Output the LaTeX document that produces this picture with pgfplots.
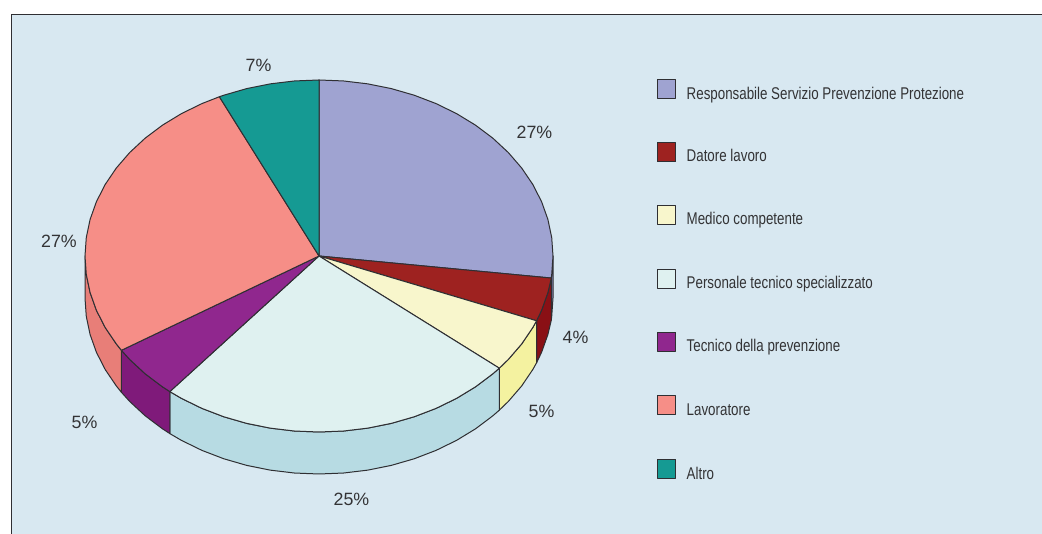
\documentclass[border=0pt]{standalone}
\usepackage{pgfplots}
\usepackage{fontspec}
\pgfplotsset{compat=1.18}
\setmainfont{Liberation Sans}
\newfontfamily\cond{Liberation Sans}[FakeStretch=0.785]
\definecolor{panel}{HTML}{D8E8F1}
\definecolor{edge}{HTML}{2F2F33}
\definecolor{txt}{HTML}{333335}
\definecolor{ta}{HTML}{9FA3D1}\definecolor{tb}{HTML}{9E2220}\definecolor{tc}{HTML}{F8F6CC}
\definecolor{td}{HTML}{DFF1F0}\definecolor{te}{HTML}{90278E}\definecolor{tf}{HTML}{F68E87}\definecolor{tg}{HTML}{159A93}
\definecolor{sa}{HTML}{7D80AC}\definecolor{sb}{HTML}{8A1015}\definecolor{sc}{HTML}{F4F2A0}
\definecolor{sd}{HTML}{B7DBE3}\definecolor{se}{HTML}{7F1A7A}\definecolor{sf}{HTML}{E87E78}
\newcommand{\pct}[3]{\node[text=txt,font=\fontsize{17.8}{20}\selectfont,anchor=center] at (axis cs:#1,#2) {#3\%};}
\newcommand{\leg}[2]{\node[text=txt,font=\cond\fontsize{17}{20}\selectfont,anchor=base west,inner sep=0pt] at (axis cs:686.5,#1) {#2};}
\begin{document}
\begin{tikzpicture}
\begin{axis}[
  scale only axis, width=1042pt, height=534pt,
  xmin=0, xmax=1042, ymin=0, ymax=534,
  hide axis, clip=true,
  every axis plot/.append style={line join=round, line width=1pt}
]
% panel
\addplot[fill=white,draw=none] coordinates {(0,0)(1042,0)(1042,534)(0,534)} --cycle;
\addplot[fill=panel,draw=none] coordinates {(11,0)(1042,0)(1042,520)(11,520)} --cycle;
\addplot[draw=edge,line width=1.8pt] coordinates {(11.5,0)(11.5,519.5)(1042,519.5)};
% side walls
\addplot[fill=sa,draw=edge] coordinates {(553,278)(551.72,259.6)(551.32,255.94)(551.32,213.94)(551.72,217.6)(553,236)} --cycle;
\addplot[fill=sb,draw=edge] coordinates {(551.32,255.94)(547.89,241.41)(541.55,223.61)(536.57,213.21)(536.57,171.21)(541.55,181.61)(547.89,199.41)(551.32,213.94)} --cycle;
\addplot[fill=sc,draw=edge] coordinates {(536.57,213.21)(532.77,206.41)(521.65,190)(508.31,174.55)(499.30,165.81)(499.30,123.81)(508.31,132.55)(521.65,148)(532.77,164.41)(536.57,171.21)} --cycle;
\addplot[fill=sd,draw=edge] coordinates {(499.30,165.81)(492.89,160.23)(475.58,147.21)(456.54,135.61)(436,125.58)(414.18,117.22)(391.31,110.61)(367.65,105.85)(343.46,102.96)(319,102)(294.54,102.96)(270.35,105.85)(246.69,110.61)(223.82,117.22)(202,125.58)(181.46,135.61)(169.84,142.39)(169.84,100.39)(181.46,93.61)(202,83.58)(223.82,75.22)(246.69,68.61)(270.35,63.85)(294.54,60.96)(319,60)(343.46,60.96)(367.65,63.85)(391.31,68.61)(414.18,75.22)(436,83.58)(456.54,93.61)(475.58,105.21)(492.89,118.23)(499.30,123.81)} --cycle;
\addplot[fill=se,draw=edge] coordinates {(169.84,142.39)(162.42,147.21)(145.11,160.23)(129.69,174.55)(121.43,183.69)(121.43,141.69)(129.69,132.55)(145.11,118.23)(162.42,105.21)(169.84,100.39)} --cycle;
\addplot[fill=sf,draw=edge] coordinates {(121.43,183.69)(116.35,190)(105.23,206.41)(96.45,223.61)(90.11,241.41)(86.28,259.6)(85,278)(85,236)(86.28,217.6)(90.11,199.41)(96.45,181.61)(105.23,164.41)(116.35,148)(121.43,141.69)} --cycle;
% top faces
\addplot[fill=ta,draw=edge] coordinates {(319,278)(319,454)(343.46,453.04)(367.65,450.15)(391.31,445.39)(414.18,438.78)(436,430.42)(456.54,420.39)(475.58,408.79)(492.89,395.77)(508.31,381.45)(521.65,366)(532.77,349.59)(541.55,332.39)(547.89,314.59)(551.72,296.4)(553,278)(551.72,259.6)(551.32,255.94)} --cycle;
\addplot[fill=tb,draw=edge] coordinates {(319,278)(551.32,255.94)(547.89,241.41)(541.55,223.61)(536.57,213.21)} --cycle;
\addplot[fill=tc,draw=edge] coordinates {(319,278)(536.57,213.21)(532.77,206.41)(521.65,190)(508.31,174.55)(499.30,165.81)} --cycle;
\addplot[fill=td,draw=edge] coordinates {(319,278)(499.30,165.81)(492.89,160.23)(475.58,147.21)(456.54,135.61)(436,125.58)(414.18,117.22)(391.31,110.61)(367.65,105.85)(343.46,102.96)(319,102)(294.54,102.96)(270.35,105.85)(246.69,110.61)(223.82,117.22)(202,125.58)(181.46,135.61)(169.84,142.39)} --cycle;
\addplot[fill=te,draw=edge] coordinates {(319,278)(169.84,142.39)(162.42,147.21)(145.11,160.23)(129.69,174.55)(121.43,183.69)} --cycle;
\addplot[fill=tf,draw=edge] coordinates {(319,278)(121.43,183.69)(116.35,190)(105.23,206.41)(96.45,223.61)(90.11,241.41)(86.28,259.6)(85,278)(86.28,296.4)(90.11,314.59)(96.45,332.39)(105.23,349.59)(116.35,366)(129.69,381.45)(145.11,395.77)(162.42,408.79)(181.46,420.39)(202,430.42)(219.37,437.25)} --cycle;
\addplot[fill=tg,draw=edge] coordinates {(319,278)(219.37,437.25)(223.82,438.78)(246.69,445.39)(270.35,450.15)(294.54,453.04)(319,454)} --cycle;
% legend swatches
\addplot[fill=ta,draw=edge] coordinates {(657,435.5)(675.5,435.5)(675.5,454.5)(657,454.5)} --cycle;
\addplot[fill=tb,draw=edge] coordinates {(657,372)(675.5,372)(675.5,391)(657,391)} --cycle;
\addplot[fill=tc,draw=edge] coordinates {(657,309)(675.5,309)(675.5,328)(657,328)} --cycle;
\addplot[fill=td,draw=edge] coordinates {(657,245.5)(675.5,245.5)(675.5,264.5)(657,264.5)} --cycle;
\addplot[fill=te,draw=edge] coordinates {(657,182.5)(675.5,182.5)(675.5,201.5)(657,201.5)} --cycle;
\addplot[fill=tf,draw=edge] coordinates {(657,119)(675.5,119)(675.5,138)(657,138)} --cycle;
\addplot[fill=tg,draw=edge] coordinates {(657,55.5)(675.5,55.5)(675.5,74.5)(657,74.5)} --cycle;
\leg{434.5}{Responsabile Servizio Prevenzione Protezione}
\leg{372}{Datore lavoro}
\leg{309}{Medico competente}
\leg{245.2}{Personale tecnico specializzato}
\leg{182}{Tecnico della prevenzione}
\leg{118}{Lavoratore}
\leg{54.8}{Altro}
\pct{534.5}{402}{27}
\pct{575.5}{197}{4}
\pct{541.5}{123}{5}
\pct{351.5}{35}{25}
\pct{84.5}{112}{5}
\pct{59}{293}{27}
\pct{258.5}{469}{7}
\end{axis}
\end{tikzpicture}
\end{document}
